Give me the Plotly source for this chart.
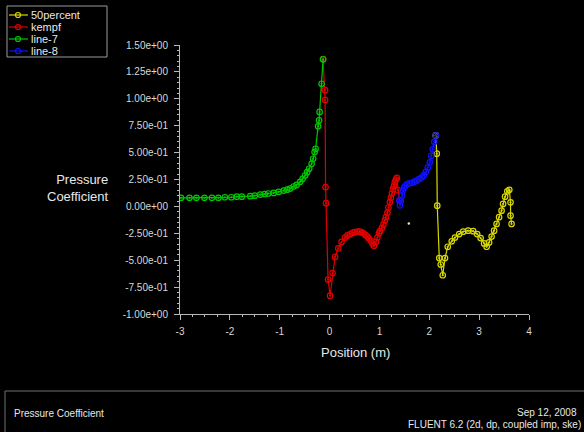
import plotly.graph_objects as go

# ---------------- data ----------------
line7_x = [-2.98, -2.81, -2.67, -2.51, -2.36, -2.23, -2.10, -1.97, -1.86, -1.76, -1.59, -1.50,
           -1.39, -1.30, -1.23, -1.12, -1.02, -0.92, -0.85, -0.79, -0.72, -0.66, -0.59, -0.54,
           -0.49, -0.45, -0.41, -0.36, -0.33, -0.30, -0.28, -0.23, -0.21, -0.20, -0.16, -0.13]
line7_y = [0.08, 0.08, 0.08, 0.08, 0.08, 0.08, 0.085, 0.085, 0.09, 0.09, 0.095, 0.10,
           0.11, 0.115, 0.12, 0.125, 0.135, 0.147, 0.155, 0.166, 0.185, 0.20, 0.228, 0.256,
           0.287, 0.318, 0.35, 0.396, 0.443, 0.505, 0.536, 0.744, 0.80, 0.878, 1.14, 1.367]

kempf_x = [-0.13, -0.09, -0.09, -0.08, -0.07, -0.03, 0.01, 0.06, 0.11, 0.175, 0.24, 0.31,
           0.36, 0.41, 0.46, 0.51, 0.56, 0.60, 0.64, 0.68, 0.72, 0.76, 0.79, 0.83, 0.86,
           0.89, 0.93, 0.96, 0.99, 1.01, 1.05, 1.08, 1.11, 1.13, 1.16, 1.18, 1.21, 1.23,
           1.25, 1.27, 1.29, 1.31, 1.33, 1.35, 1.37, 1.40]
kempf_y = [1.37, 1.08, 0.99, 0.18, 0.03, -0.68, -0.83, -0.62, -0.47, -0.39, -0.33, -0.29,
           -0.27, -0.26, -0.245, -0.24, -0.235, -0.235, -0.24, -0.25, -0.265, -0.28, -0.30,
           -0.32, -0.345, -0.365, -0.33, -0.29, -0.25, -0.23, -0.20, -0.17, -0.13, -0.10,
           -0.06, -0.01, 0.04, 0.08, 0.12, 0.16, 0.19, 0.225, 0.25, 0.265, 0.15, 0.055]

line8_x = [1.40, 1.41, 1.43, 1.45, 1.47, 1.49, 1.51, 1.55, 1.60, 1.65, 1.70, 1.75, 1.80,
           1.85, 1.89, 1.93, 1.97, 2.01, 2.04, 2.07, 2.10, 2.13]
line8_y = [0.055, 0.01, 0.05, 0.10, 0.145, 0.17, 0.185, 0.205, 0.215, 0.22, 0.23, 0.24,
           0.255, 0.27, 0.29, 0.32, 0.36, 0.41, 0.47, 0.53, 0.60, 0.66]

pct50_x = [2.13, 2.15, 2.16, 2.20, 2.23, 2.27, 2.315, 2.37, 2.45, 2.515, 2.60, 2.68, 2.78,
           2.88, 2.96, 3.03, 3.10, 3.15, 3.20, 3.25, 3.30, 3.35, 3.40, 3.45, 3.48, 3.52,
           3.565, 3.605, 3.63, 3.63, 3.65]
pct50_y = [0.66, 0.49, 0.007, -0.48, -0.54, -0.64, -0.48, -0.375, -0.325, -0.29, -0.257,
           -0.235, -0.226, -0.23, -0.257, -0.294, -0.344, -0.375, -0.335, -0.28, -0.226,
           -0.163, -0.10, -0.04, 0.023, 0.09, 0.14, 0.154, 0.038, -0.086, -0.163]

stray_x = [1.59]
stray_y = [-0.16]

series_names = ["50percent", "kempf", "line-7", "line-8"]
series_colors = ["#d8d800", "#e00000", "#00c800", "#1010ff"]

y_tickvals = [-1.0, -0.75, -0.5, -0.25, 0.0, 0.25, 0.5, 0.75, 1.0, 1.25, 1.5]
y_ticktext = ["-1.00e+00", "-7.50e-01", "-5.00e-01", "-2.50e-01", "0.00e+00", "2.50e-01",
              "5.00e-01", "7.50e-01", "1.00e+00", "1.25e+00", "1.50e+00"]
x_tickvals = [-3, -2, -1, 0, 1, 2, 3, 4]
x_ticktext = ["-3", "-2", "-1", "0", "1", "2", "3", "4"]

# ---------------- figure ----------------
W, H = 584, 432
L, R, T, B = 180, 55, 45, 118
PW, PH = W - L - R, H - T - B


def xp(px):
    return (px - L) / PW


def yp(py):
    return (H - B - py) / PH


FONT = "Liberation Sans, Arial, sans-serif"
fig = go.Figure()

data = {
    "50percent": (pct50_x, pct50_y),
    "kempf": (kempf_x, kempf_y),
    "line-7": (line7_x, line7_y),
    "line-8": (line8_x, line8_y),
}
for name, color in zip(series_names, series_colors):
    xs, ys = data[name]
    fig.add_trace(go.Scatter(
        x=xs, y=ys, name=name, mode="lines+markers",
        line=dict(color=color, width=1.2),
        marker=dict(symbol="circle-open-dot", size=5.5, color=color, line=dict(width=1.2, color=color)),
        showlegend=False,
    ))

fig.add_trace(go.Scatter(x=stray_x, y=stray_y, mode="markers",
                         marker=dict(size=2.5, color="#dddddd"), showlegend=False))

axis_common = dict(
    showline=True, linecolor="#b8b8b8", linewidth=1, showgrid=False, zeroline=False,
    ticks="outside", tickcolor="#b8b8b8", ticklen=5, tickwidth=1,
    tickfont=dict(family=FONT, size=10, color="#d8d8d8"),
)
fig.update_xaxes(range=[-3, 4], tickvals=x_tickvals, ticktext=x_ticktext,
                 minor=dict(dtick=0.25, tick0=0, ticks="outside", ticklen=2, tickcolor="#b8b8b8"),
                 ticklabelstandoff=3, **axis_common)
fig.update_yaxes(range=[-1, 1.5], tickvals=y_tickvals, ticktext=y_ticktext,
                 minor=dict(dtick=0.05, tick0=0, ticks="outside", ticklen=2, tickcolor="#b8b8b8"),
                 ticklabelstandoff=4, **axis_common)

annotations = [
    dict(text="Pressure<br>Coefficient", x=xp(111), y=yp(188), xanchor="right", yanchor="middle",
         align="right", font=dict(family=FONT, size=13, color="#e8e8e8")),
    dict(text="Position (m)", x=xp(355), y=yp(352), xanchor="center", yanchor="middle",
         font=dict(family=FONT, size=13, color="#e8e8e8")),
    dict(text="Pressure Coefficient", x=xp(12), y=yp(414), xanchor="left", yanchor="middle",
         font=dict(family=FONT, size=10, color="#e8e8e8")),
    dict(text="Sep 12, 2008", x=xp(579), y=yp(412), xanchor="right", yanchor="middle",
         font=dict(family=FONT, size=10, color="#e8e8e8")),
    dict(text="FLUENT 6.2 (2d, dp, coupled imp, ske)", x=xp(583), y=yp(424), xanchor="right",
         yanchor="middle", font=dict(family=FONT, size=10, color="#e8e8e8")),
]

shapes = [
    # bottom info panel frame
    dict(type="line", x0=xp(5), x1=xp(584), y0=yp(391), y1=yp(391), line=dict(color="#707070", width=1)),
    dict(type="line", x0=xp(5), x1=xp(5), y0=yp(391), y1=yp(432), line=dict(color="#707070", width=1)),
    # legend box
    dict(type="rect", x0=xp(7), x1=xp(107), y0=yp(6), y1=yp(57),
         line=dict(color="#9a9a9a", width=1), fillcolor="black"),
]

legend_rows = [15, 27, 39, 51]
for name, color, row in zip(series_names, series_colors, legend_rows):
    shapes.append(dict(type="line", x0=xp(9), x1=xp(28), y0=yp(row), y1=yp(row),
                       line=dict(color=color, width=1.2)))
    shapes.append(dict(type="circle", x0=xp(15.5), x1=xp(20.5), y0=yp(row - 2.5), y1=yp(row + 2.5),
                       line=dict(color=color, width=1.2)))
    annotations.append(dict(text=name, x=xp(29), y=yp(row), xanchor="left", yanchor="middle",
                            font=dict(family=FONT, size=11, color="#e8e8e8")))

for a in annotations:
    a.update(xref="paper", yref="paper", showarrow=False)
for s in shapes:
    s.update(xref="paper", yref="paper", layer="above")

fig.update_layout(
    width=W, height=H, margin=dict(l=L, r=R, t=T, b=B, pad=0),
    paper_bgcolor="black", plot_bgcolor="black",
    showlegend=False, annotations=annotations, shapes=shapes,
)

fig.write_html("out.html", config={"displayModeBar": False},
               post_script="document.body.style.margin='0';document.body.style.background='black';")
